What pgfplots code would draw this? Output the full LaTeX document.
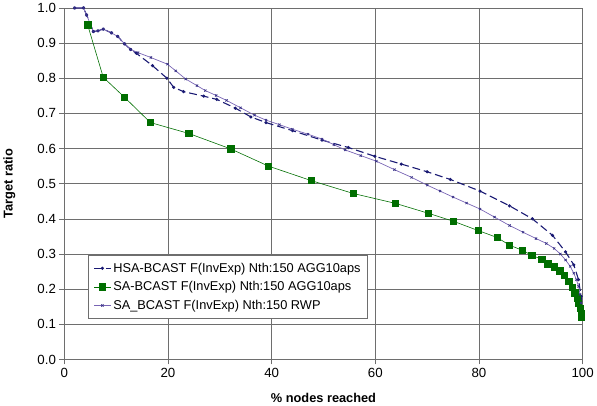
\documentclass[border=0pt]{standalone}
\usepackage{pgfplots}
\pgfplotsset{compat=1.18}
\usepackage{fontspec}
\setmainfont{Liberation Sans}
\definecolor{navy}{RGB}{25,25,115}
\definecolor{dgreen}{RGB}{0,110,0}
\definecolor{lilac}{RGB}{120,100,180}
\definecolor{gridc}{RGB}{110,110,110}

\begin{document}
\begin{tikzpicture}[x=1bp,y=1bp]
\begin{axis}[
  scale only axis, width=525bp, height=356bp,
  xmin=0, xmax=100, ymin=0, ymax=1.0,
  axis x line*=bottom, axis y line*=left,
  axis line style={gridc, line width=0.8pt},
  xtick={0,20,...,100}, ytick={0,0.1,...,1.0},
  y tick label style={/pgf/number format/.cd, fixed, fixed zerofill, precision=1},
  /pgf/number format/assume math mode=true,
  tick align=outside, major tick length=5bp, tick style={gridc, line width=0.6pt},
  grid=major, major grid style={gridc, line width=0.7pt},
  tick label style={font=\fontsize{13.5}{15}\selectfont},
  xlabel={\bfseries \% nodes reached}, ylabel={\bfseries Target ratio},
  label style={font=\fontsize{13}{15}\selectfont},
  ylabel style={at={(axis description cs:-0.088,0.5)}},
  xlabel style={at={(axis description cs:0.5,-0.085)}},
  clip=false,
  legend cell align=left,
  legend style={at={(0.046,0.298)}, anchor=north west, draw=gridc, line width=0.7pt,
    font=\fontsize{13}{15}\selectfont, row sep=4bp, inner xsep=5bp, inner ysep=6bp},
]
\addplot[navy, dashed, dash pattern=on 8pt off 4pt, line width=1.1pt, mark=*, mark size=1pt, mark options={solid}] coordinates {
(2,1.0) (3.7,1.0) (4.3,0.98) (5.6,0.933) (6.5,0.935) (7.5,0.94) (9.1,0.929) (10.3,0.919)
(11.6,0.898) (12.8,0.882) (13.9,0.871) (17,0.836) (19.8,0.800) (21.1,0.774) (23,0.762)
(26.9,0.749) (29.4,0.740) (33,0.715) (36,0.690) (38.9,0.674) (44,0.651) (49.7,0.624)
(54.8,0.603) (59.9,0.578) (65,0.556) (70,0.534) (74.5,0.512) (80.2,0.479) (85.9,0.437)
(90.3,0.400) (94.2,0.353) (96.7,0.306) (98.3,0.269) (99.2,0.227) (99.7,0.180) (99.9,0.142)};
\addlegendentry{HSA-BCAST F(InvExp) Nth:150 AGG10aps}
\addplot[dgreen, line width=0.6pt, mark=square*, mark size=3.2pt, mark options={fill=dgreen}] coordinates {
(4.5,0.952) (7.5,0.803) (11.6,0.746) (16.6,0.674) (24.0,0.643) (32.1,0.599) (39.4,0.550)
(47.6,0.509) (55.8,0.472) (63.9,0.444) (70.2,0.416) (75.1,0.393) (79.8,0.367) (83.5,0.347)
(85.9,0.325) (88.3,0.311) (90.2,0.296) (92.1,0.285) (93.3,0.272) (94.5,0.264) (95.6,0.252)
(96.5,0.239) (97.3,0.222) (98.0,0.205) (98.5,0.190) (98.9,0.175) (99.2,0.160) (99.5,0.145)
(99.7,0.130) (99.8,0.120)};
\addlegendentry{SA-BCAST F(InvExp) Nth:150 AGG10aps}
\addplot[lilac, line width=0.7pt, mark=x, mark size=1.6pt, mark options={navy!70!lilac}] coordinates {
(2,1.0) (3.7,1.0) (4.3,0.98) (5.6,0.933) (6.5,0.935) (7.5,0.94) (9.1,0.929) (10.3,0.919)
(11.6,0.898) (12.8,0.882) (14.2,0.873) (16.7,0.859) (19.9,0.840) (21.5,0.821) (23.4,0.798)
(25.6,0.779) (27.2,0.765) (29.3,0.751) (31.3,0.737) (34,0.716) (36.7,0.695) (38.9,0.681)
(41.5,0.668) (44,0.655) (47,0.641) (49.7,0.627) (52,0.611) (54.2,0.596) (57.2,0.580)
(60.2,0.564) (63.7,0.540) (67,0.518) (70,0.496) (72.5,0.479) (75,0.462) (77.6,0.445)
(80.2,0.428) (83,0.405) (85.9,0.381) (88.5,0.362) (91,0.344) (93,0.330) (94.5,0.316)
(95.7,0.300) (96.7,0.283) (97.6,0.265) (98.3,0.245) (98.8,0.227) (99.2,0.208) (99.5,0.185)
(99.7,0.161)};
\addlegendentry{SA\_BCAST F(InvExp) Nth:150 RWP}
\end{axis}
\end{tikzpicture}
\end{document}
